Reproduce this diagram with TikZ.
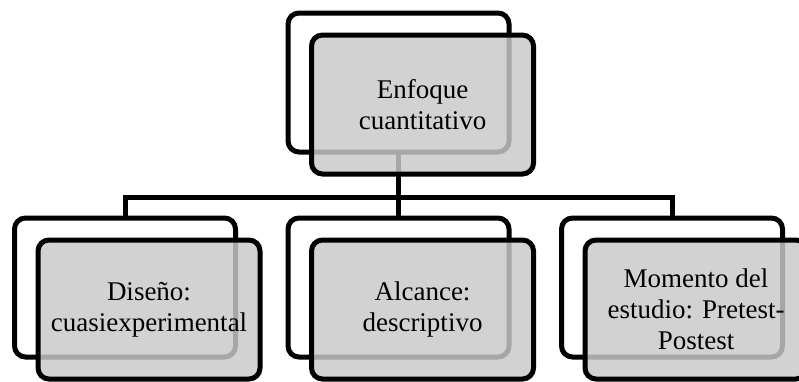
\documentclass[tikz,border=0pt]{standalone}
\usepackage{fontspec}
\setmainfont{Liberation Serif}
\begin{document}
\begin{tikzpicture}[x=1pt,y=-1pt,
  backbox/.style={draw=black, line width=5pt, rounded corners=11pt, minimum width=221pt, minimum height=139pt, inner sep=0pt, outer sep=0pt},
  frontbox/.style={draw=black, line width=5pt, rounded corners=11pt, minimum width=222pt, minimum height=139pt, inner sep=0pt, outer sep=0pt,
    fill=black!21, fill opacity=0.83, draw opacity=1, text opacity=1, align=center,
    font=\fontsize{27}{31}\selectfont},
  conn/.style={draw=black, line width=5pt}]
\useasboundingbox (0,0) rectangle (799,381);
\clip (0,0) rectangle (799,381);
% back frames
\node[backbox] (tback) at (398.5,82.5) {};
\node[backbox] (b1) at (125,287.5) {};
\node[backbox] (b2) at (398.5,287.5) {};
\node[backbox] (b3) at (672,287.5) {};
% connectors
\coordinate (bus) at (398.5,197);
\draw[conn] (tback.south) -- (bus);
\draw[conn] (b1.north) |- (bus) -| (b3.north);
\draw[conn] (bus) -- (b2.north);
% front boxes
\node[frontbox] (top) at (422.5,104.5) {Enfoque\\cuantitativo};
\node[frontbox] (f1) at (149,309.5) {Diseño:\\cuasiexperimental};
\node[frontbox] (f2) at (422.5,309.5) {Alcance:\\descriptivo};
\node[frontbox] (f3) at (696,309.5) {Momento del\\estudio: Pretest-\\Postest};
\end{tikzpicture}
\end{document}
